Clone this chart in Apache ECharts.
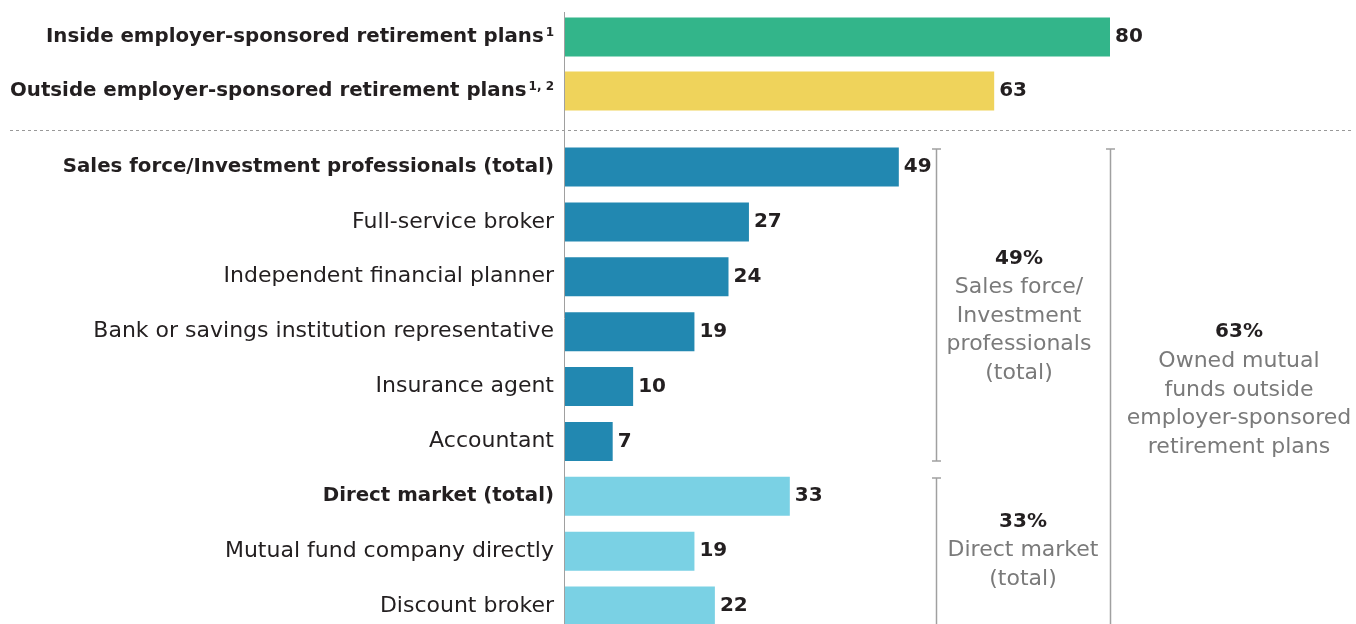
<!DOCTYPE html>
<html>
<head>
<meta charset="utf-8">
<script src="https://cdn.jsdelivr.net/npm/echarts@6/dist/echarts.min.js"></script>
<style>
    html, body { margin: 0; padding: 0; background: #fff; }
    #main { width: 1356px; height: 624px; }
</style>
</head>
<body>
<div id="main"></div>
<script>
// data
const planCategories = ['Inside employer-sponsored retirement plans', 'Outside employer-sponsored retirement plans']
const planNotes = ['1', '1, 2']
const planValues = [80, 63]
const planColors = ['#33b58a', '#efd35b']

const channelCategories = [
    'Sales force/Investment professionals (total)',
    'Full-service broker',
    'Independent financial planner',
    'Bank or savings institution representative',
    'Insurance agent',
    'Accountant',
    'Direct market (total)',
    'Mutual fund company directly',
    'Discount broker'
]
const channelValues = [49, 27, 24, 19, 10, 7, 33, 19, 22]
const channelGroups = ['sales', 'sales', 'sales', 'sales', 'sales', 'sales', 'direct', 'direct', 'direct']
const channelTotals = [true, false, false, false, false, false, true, false, false]
const groupColors = { sales: '#2288b1', direct: '#7ad1e4' }

const textColor = '#231f20'
const noteColor = '#7a7a7a'
const lineColor = '#a0a0a0'
const fontFamily = '"DejaVu Sans", "Noto Sans", sans-serif'
const boldSize = 19.8
const plainSize = 22

function initChart() {
    const chartInstance = echarts.init(document.getElementById('main'))

    // boundaryGap false -> first/last bar sit on the grid edges
    const yAxisBase = {
        type: 'category',
        inverse: true,
        boundaryGap: false,
        axisTick: { show: false },
        axisLine: { show: false },
        axisLabel: {
            margin: 11,
            fontSize: plainSize,
            color: textColor,
            fontFamily: fontFamily
        }
    }
    const xAxisBase = { type: 'value', min: 0, max: 80, show: false }
    const labelBase = {
        show: true,
        position: 'right',
        distance: 5,
        fontSize: 20,
        fontWeight: 'bold',
        color: textColor,
        fontFamily: fontFamily
    }

    const option = {
        animation: false,
        grid: [
            { left: 565, top: 37, width: 545, height: 54 },
            { left: 565, top: 167, width: 545, height: 439 }
        ],
        xAxis: [
            Object.assign({ gridIndex: 0 }, xAxisBase),
            Object.assign({ gridIndex: 1 }, xAxisBase)
        ],
        yAxis: [
            Object.assign({}, yAxisBase, {
                gridIndex: 0,
                data: planCategories,
                axisLabel: Object.assign({}, yAxisBase.axisLabel, {
                    formatter: (val, idx) => '{b|' + val + '}{sup|' + planNotes[idx] + '}',
                    rich: {
                        b: { fontSize: boldSize, fontWeight: 'bold', color: textColor, fontFamily: fontFamily },
                        sup: { fontSize: 12, fontWeight: 'bold', color: textColor, fontFamily: fontFamily, verticalAlign: 'top', padding: [0, 0, 6, 2] }
                    }
                })
            }),
            Object.assign({}, yAxisBase, {
                gridIndex: 1,
                data: channelCategories,
                axisLabel: Object.assign({}, yAxisBase.axisLabel, {
                    formatter: (val, idx) => channelTotals[idx] ? '{b|' + val + '}' : '{n|' + val + '}',
                    rich: {
                        b: { fontSize: boldSize, fontWeight: 'bold', color: textColor, fontFamily: fontFamily },
                        n: { fontSize: plainSize, color: textColor, fontFamily: fontFamily }
                    }
                })
            })
        ],
        series: [
            {
                type: 'bar',
                xAxisIndex: 0,
                yAxisIndex: 0,
                barWidth: 39,
                label: labelBase,
                data: planValues.map((v, i) => ({ value: v, itemStyle: { color: planColors[i] } }))
            },
            {
                type: 'bar',
                xAxisIndex: 1,
                yAxisIndex: 1,
                barWidth: 39,
                label: labelBase,
                data: channelValues.map((v, i) => ({ value: v, itemStyle: { color: groupColors[channelGroups[i]] } }))
            }
        ],
        graphic: [
            // axis line, dashed divider
            { type: 'line', shape: { x1: 564.5, y1: 12, x2: 564.5, y2: 630 }, style: { stroke: lineColor, lineWidth: 1 }, z: 10 },
            { type: 'line', shape: { x1: 10, y1: 130.5, x2: 1352, y2: 130.5 }, style: { stroke: '#999999', lineWidth: 1, lineDash: [3, 3] } },
            // brackets
            { type: 'line', shape: { x1: 936.5, y1: 149, x2: 936.5, y2: 461 }, style: { stroke: lineColor, lineWidth: 1.5 } },
            { type: 'line', shape: { x1: 932, y1: 149, x2: 941, y2: 149 }, style: { stroke: lineColor, lineWidth: 1.5 } },
            { type: 'line', shape: { x1: 932, y1: 461, x2: 941, y2: 461 }, style: { stroke: lineColor, lineWidth: 1.5 } },
            { type: 'line', shape: { x1: 936.5, y1: 478, x2: 936.5, y2: 630 }, style: { stroke: lineColor, lineWidth: 1.5 } },
            { type: 'line', shape: { x1: 932, y1: 478, x2: 941, y2: 478 }, style: { stroke: lineColor, lineWidth: 1.5 } },
            { type: 'line', shape: { x1: 1110.5, y1: 149, x2: 1110.5, y2: 630 }, style: { stroke: lineColor, lineWidth: 1.5 } },
            { type: 'line', shape: { x1: 1106, y1: 149, x2: 1115, y2: 149 }, style: { stroke: lineColor, lineWidth: 1.5 } },
            // annotations
            { type: 'text', style: { text: '49%', x: 1019, y: 259, align: 'center', verticalAlign: 'middle', fontSize: 20, fontWeight: 'bold', fill: textColor, fontFamily: fontFamily } },
            { type: 'text', style: { text: 'Sales force/\nInvestment\nprofessionals\n(total)', x: 1019, y: 273, align: 'center', verticalAlign: 'top', lineHeight: 28.7, fontSize: plainSize, fill: noteColor, fontFamily: fontFamily } },
            { type: 'text', style: { text: '63%', x: 1239, y: 332, align: 'center', verticalAlign: 'middle', fontSize: 20, fontWeight: 'bold', fill: textColor, fontFamily: fontFamily } },
            { type: 'text', style: { text: 'Owned mutual\nfunds outside\nemployer-sponsored\nretirement plans', x: 1239, y: 347, align: 'center', verticalAlign: 'top', lineHeight: 28.7, fontSize: plainSize, fill: noteColor, fontFamily: fontFamily } },
            { type: 'text', style: { text: '33%', x: 1023, y: 522, align: 'center', verticalAlign: 'middle', fontSize: 20, fontWeight: 'bold', fill: textColor, fontFamily: fontFamily } },
            { type: 'text', style: { text: 'Direct market\n(total)', x: 1023, y: 536, align: 'center', verticalAlign: 'top', lineHeight: 28.7, fontSize: plainSize, fill: noteColor, fontFamily: fontFamily } }
        ]
    }
    chartInstance.setOption(option)
}

initChart()
</script>
</body>
</html>
